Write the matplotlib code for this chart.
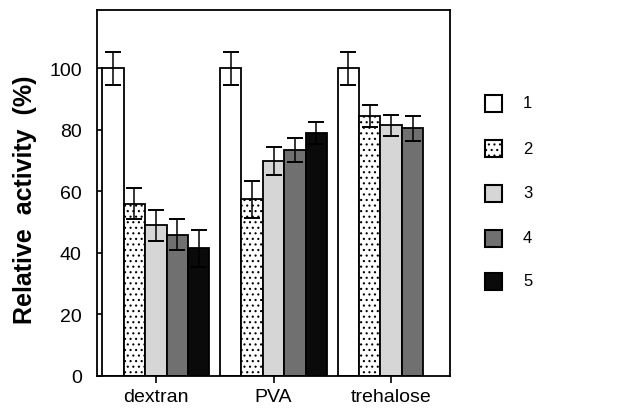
import matplotlib
matplotlib.use("Agg")
import matplotlib.pyplot as plt
from matplotlib.patches import Rectangle
import numpy as np

plt.rcParams['font.family'] = ['Liberation Sans', 'DejaVu Sans']
plt.rcParams['hatch.linewidth'] = 0.8

groups = ["dextran", "PVA", "trehalose"]
series_labels = ["1", "2", "3", "4", "5"]
dextran = [100, 56, 49, 46, 41.5]
dextran_err = [5.5, 5, 5, 5, 6]
pva = [100, 57.5, 70, 73.5, 79]
pva_err = [5.5, 6, 4.5, 4, 3.5]
trehalose = [100, 84.5, 81.5, 80.5]
trehalose_err = [5.5, 3.5, 3.5, 4]
yticks = [0, 20, 40, 60, 80, 100]

values = [dextran, pva, trehalose]
errors = [dextran_err, pva_err, trehalose_err]

facecolors = ["white", "white", "#d6d6d6", "#707070", "#0a0a0a"]
hatches = [None, "...", None, None, None]

fig = plt.figure(figsize=(6.22, 4.10), dpi=100)
ax = fig.add_axes([97/622, 1-377/410, (450-97)/622, (377-11)/410])

width = 0.182
for gi, (vals, errs) in enumerate(zip(values, errors)):
    for si, (v, e) in enumerate(zip(vals, errs)):
        x = gi + (si - 2) * width
        ax.bar(x, v, width=width, color=facecolors[si], edgecolor="black",
               linewidth=1.3, hatch=hatches[si], zorder=2)
        ax.errorbar(x, v, yerr=e, color="black", capsize=6, elinewidth=1.1,
                    capthick=1.4, fmt="none", zorder=3)

ax.set_xlim(-0.5, 2.5)
ax.set_ylim(0, 119)
ax.set_yticks(yticks)
ax.set_yticklabels([str(t) for t in yticks], fontsize=14)
ax.set_xticks(range(len(groups)))
ax.set_xticklabels(groups, fontsize=14)
ax.tick_params(axis="y", direction="in", length=4, width=1.2, pad=11)
ax.tick_params(axis="x", direction="out", length=5, width=1.2, pad=4)
for s in ax.spines.values():
    s.set_linewidth(1.3)

fig.text(25/622, 1-200/410, "Relative  activity  (%)", fontsize=18,
         fontweight="bold", rotation=90, ha="center", va="center")

# legend
leg_x = 485
leg_ys = [104, 149, 194, 239, 282]
size = 17
for si, lab in enumerate(series_labels):
    yc = leg_ys[si]
    r = Rectangle((leg_x/622, 1-(yc+size/2)/410), size/622, size/410,
                  transform=fig.transFigure, facecolor=facecolors[si],
                  edgecolor="black", linewidth=1.5, hatch=hatches[si])
    fig.add_artist(r)
    fig.text(523/622, 1-yc/410, lab, fontsize=12, va="center", ha="left")

fig.savefig("out.png", dpi=100)
